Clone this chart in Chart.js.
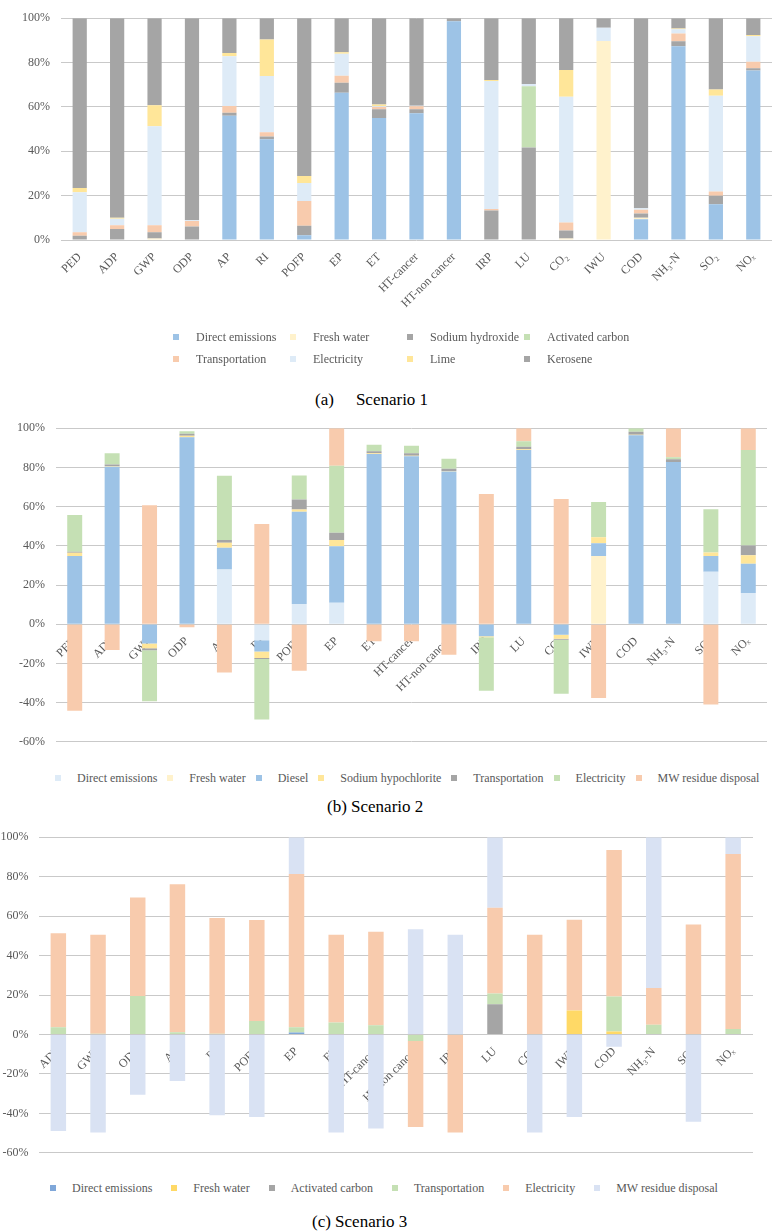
<!DOCTYPE html>
<html>
<head>
<meta charset="utf-8">
<script src="https://cdn.jsdelivr.net/npm/chart.js@4.4.1/dist/chart.umd.min.js"></script>
<style>
  body { margin: 0; background: #fff; width: 774px; height: 1231px; position: relative; overflow: hidden;
         font-family: "Liberation Serif", "Times New Roman", serif; color: #595959; }
  canvas { position: absolute; left: 0; }
  .legend { position: absolute; font-size: 12px; color: #595959; }
  .legend .item { display: flex; align-items: center; white-space: nowrap; height: 22px; }
  .legend .mark { width: 6px; height: 6px; flex: none; }
  .caption { position: absolute; font-size: 17px; color: #000; white-space: nowrap; }
</style>
</head>
<body>
<canvas id="c1" width="774" height="330" style="top:0"></canvas>
<div id="leg1" class="legend" style="left:173px;top:326px;display:grid;grid-template-columns:repeat(4,117px)"></div>
<div class="caption" style="left:315px;top:390px">(a)<span style="display:inline-block;width:22px"></span>Scenario 1</div>

<canvas id="c2" width="774" height="350" style="top:410px"></canvas>
<div id="leg2" class="legend" style="left:55px;top:767px;display:flex;gap:10px"></div>
<div class="caption" style="left:327px;top:797px">(b) Scenario 2</div>

<canvas id="c3" width="774" height="350" style="top:820px"></canvas>
<div id="leg3" class="legend" style="left:50px;top:1177px;display:flex;gap:19px"></div>
<div class="caption" style="left:312px;top:1212px">(c) Scenario 3</div>

<script>
// ---------- Scenario 1 ----------
const categories1 = ['PED', 'ADP', 'GWP', 'ODP', 'AP', 'RI', 'POFP', 'EP', 'ET', 'HT-cancer', 'HT-non cancer',
  'IRP', 'LU', 'CO₂', 'IWU', 'COD', 'NH₃-N', 'SO₂', 'NOₓ'];
const names1 = ['Direct emissions', 'Fresh water', 'Sodium hydroxide', 'Activated carbon',
  'Transportation', 'Electricity', 'Lime', 'Kerosene'];
const directEmissions1 = [0, 0, 0, 0, 56, 45.4, 2.1, 66.4, 55, 57.1, 98.6, 0, 0, 0, 0, 9.3, 87.4, 16.1, 76.4];
const freshWater1 = [0, 0, 0.7, 0, 0, 0, 0, 0, 0, 0, 0, 0, 0, 0.7, 89.7, 0.7, 0, 0, 0];
const sodiumHydroxide1 = [1.9, 5, 2.8, 6.1, 1.4, 1.3, 4.3, 4.5, 3.9, 1.8, 0, 13.3, 41.7, 3.6, 0, 1.9, 2.2, 3.9, 1.0];
const activatedCarbon1 = [0, 0, 0, 0, 0, 0, 0, 0, 0, 0, 0, 0, 27.6, 0, 0, 0, 0, 0, 0];
const transportation1 = [1.6, 1.7, 3.1, 2.5, 3.0, 1.9, 11.2, 3.1, 1.1, 1.4, 0, 0.7, 0, 3.6, 0, 1.7, 3.5, 1.9, 3.0];
const electricity1 = [18, 2.9, 44.7, 0.3, 22.5, 25.3, 8.1, 10, 0.3, 0.2, 0, 57.7, 1.0, 56.7, 6.0, 0.7, 1.9, 43.1, 11.5];
const lime1 = [1.9, 0.4, 9.5, 0, 1.4, 16.5, 3.2, 0.6, 0.8, 0, 0, 0.4, 0, 12.1, 0, 0, 0.4, 2.9, 0.5];
const kerosene1 = [76.6, 90, 39.2, 91.1, 15.7, 9.6, 71.1, 15.4, 38.9, 39.5, 1.4, 27.9, 29.7, 23.3, 4.3, 85.7, 4.6, 32.1, 7.6];
const colors1 = ['#9DC3E6', '#FFF2CC', '#A5A5A5', '#C5E0B4', '#F8CBAD', '#DEEBF7', '#FFE699', '#A5A5A5'];

// ---------- Scenario 2 ----------
const categories2 = categories1;
const names2 = ['Direct emissions', 'Fresh water', 'Diesel', 'Sodium hypochlorite',
  'Transportation', 'Electricity', 'MW residue disposal'];
const directEmissions2 = [0, 0, 0, 0, 27.9, -8.2, 10.3, 11, 0, 0, 0, 0, 0, 0, 0, 0, 0, 26.7, 15.9];
const freshWater2 = [0, 0, 0, 0, 0, 0, 0, 0, 0, 0, 0, 0, 0, 0, 34.8, 0, 0, 0, 0];
const diesel2 = [34.8, 80.3, -9.8, 95.4, 11.1, -5.7, 47.1, 28.8, 86.9, 85.7, 77.9, -6.1, 88.9, -5.4, 6.5, 96.4, 82.8, 8.1, 14.9];
const sodiumHypochlorite2 = [1.6, 0.3, -2.5, 0.8, 2.6, -3.3, 1.1, 3.2, 0.3, 0.3, 0.3, -0.6, 0.3, -2.0, 3.0, 0.3, 0, 1.8, 4.4];
const transportation2 = [0.6, 0.9, -1.0, 1.0, 1.4, -0.5, 5.1, 3.7, 1.0, 1.2, 1.1, 0, 1.3, -0.5, 0, 1.5, 1.3, 0, 5.0];
const electricity2 = [18.7, 5.7, -26.0, 1.2, 32.7, -30.9, 12.3, 34.1, 3.3, 3.8, 5.1, -27.2, 2.9, -27.6, 18.0, 1.8, 1.1, 22.1, 48.7];
const mwResidue2 = [-44.2, -13.1, 60.7, -1.6, -24.6, 51.1, -23.7, 19.2, -8.7, -8.7, -15.6, 66.4, 6.6, 63.9, -37.7, 0, 14.8, -41, 11.1];
const colors2 = ['#DEEBF7', '#FFF2CC', '#9DC3E6', '#FFE699', '#A5A5A5', '#C5E0B4', '#F8CBAD'];

// ---------- Scenario 3 ----------
const categories3 = ['ADP', 'GWP', 'ODP', 'AP', 'RI', 'POFP', 'EP', 'ET', 'HT-cancer', 'HT-non cancer',
  'IRP', 'LU', 'CO₂', 'IWU', 'COD', 'NH₃-N', 'SO₂', 'NOₓ'];
const names3 = ['Direct emissions', 'Fresh water', 'Activated carbon', 'Transportation',
  'Electricity', 'MW residue disposal'];
const directEmissions3 = [0, 0, 0, 0, 0, 0, 1.0, 0, 0, 0, 0, 0, 0, 0, 0, 0, 0, 0];
const freshWater3 = [0, 0, 0, 0, 0, 0, 0, 0, 0, 0, 0, 0, 0, 12.1, 1.5, 0, 0, 0];
const activatedCarbon3 = [0, 0, 0, 0, 0, 0, 0, 0, 0, 0, 0, 15.3, 0, 0, 0, 0, 0, 0];
const transportation3 = [3.6, 0.3, 19.5, 1.1, 0.3, 6.8, 2.6, 6.0, 4.7, -3.3, 0, 5.4, 0, 0, 17.7, 4.9, 0, 2.8];
const electricity3 = [47.7, 50.2, 49.9, 75.0, 58.7, 51.2, 77.8, 44.5, 47.4, -43.6, -49.7, 43.5, 50.5, 46.0, 74.3, 18.6, 55.7, 88.7];
const mwResidue3 = [-48.9, -49.7, -30.6, -23.6, -40.9, -41.9, 18.6, -49.7, -47.7, 53.3, 50.5, 35.8, -49.7, -41.9, -6.2, 76.5, -44.3, 8.5];
const colors3 = ['#7FA7D9', '#FFD966', '#A5A5A5', '#C5E0B4', '#F8CBAD', '#D9E2F3'];

const FONT = "'Liberation Serif', 'Times New Roman', serif";
const TEXT = '#595959';

function buildChart(id, labels, names, series, colors, o) {
  const xScale = {
    stacked: true,
    grid: { display: false },
    border: { display: false },
    ticks: { color: TEXT, font: { family: FONT, size: 12 }, minRotation: 45, maxRotation: 45,
             autoSkip: false, padding: 2 },
  };
  if (o.xAtZero) {
    xScale.position = { y: 0 };
    xScale.z = 1;
  } else {
    xScale.afterFit = s => { s.height = o.xHeight; };
  }
  return new Chart(document.getElementById(id), {
    type: 'bar',
    data: {
      labels: labels,
      datasets: series.map((d, i) => ({
        label: names[i],
        data: d,
        backgroundColor: colors[i],
        borderWidth: 0,
        barPercentage: o.barPct,
        categoryPercentage: 1,
        stack: 's',
      })),
    },
    options: {
      responsive: false,
      animation: false,
      layout: { padding: o.padding },
      plugins: { legend: { display: false }, tooltip: { enabled: false } },
      scales: {
        x: xScale,
        y: {
          stacked: true,
          min: o.min,
          max: 100,
          afterFit: s => { s.width = o.yWidth; },
          grid: { color: '#C9C9C9', drawTicks: false },
          border: { display: false },
          ticks: { stepSize: 20, padding: o.yPad, color: TEXT, font: { family: FONT, size: 12 },
                   callback: v => v + '%' },
        },
      },
    },
  });
}

function buildLegend(id, names, colors) {
  const el = document.getElementById(id);
  names.forEach((n, i) => {
    const item = document.createElement('div');
    item.className = 'item';
    const m = document.createElement('span');
    m.className = 'mark';
    m.style.background = colors[i];
    m.style.marginRight = id === 'leg1' ? '17px' : '16px';
    const t = document.createElement('span');
    t.textContent = n;
    item.appendChild(m);
    item.appendChild(t);
    el.appendChild(item);
  });
}

buildChart('c1', categories1, names1,
  [directEmissions1, freshWater1, sodiumHydroxide1, activatedCarbon1, transportation1, electricity1, lime1, kerosene1],
  colors1, { barPct: 0.38, min: 0, yWidth: 61, yPad: 11, xHeight: 90,
             padding: { top: 7, right: 2, bottom: 0, left: 0 } });

buildChart('c2', categories2, names2,
  [directEmissions2, freshWater2, diesel2, sodiumHypochlorite2, transportation2, electricity2, mwResidue2],
  colors2, { barPct: 0.4, min: -60, yWidth: 56, yPad: 11, xAtZero: true,
             padding: { top: 17, right: 7, bottom: 8, left: 0 } });

buildChart('c3', categories3, names3,
  [directEmissions3, freshWater3, activatedCarbon3, transportation3, electricity3, mwResidue3],
  colors3, { barPct: 0.39, min: -60, yWidth: 38.5, yPad: 10, xAtZero: true,
             padding: { top: 14, right: 21, bottom: 8, left: 0 } });

buildLegend('leg1', names1, colors1);
buildLegend('leg2', names2, colors2);
buildLegend('leg3', names3, colors3);
</script>
</body>
</html>
